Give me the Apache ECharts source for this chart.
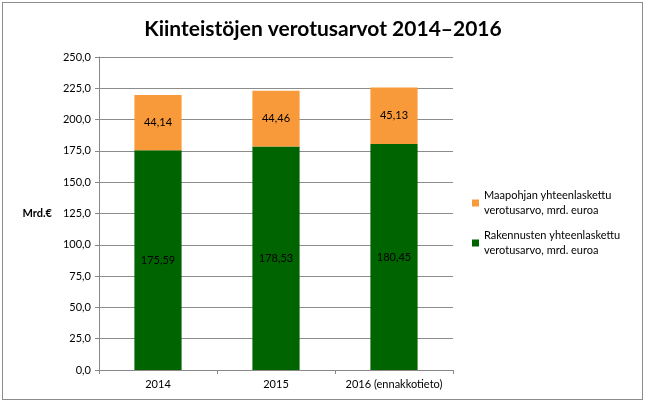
<!DOCTYPE html>
<html><head><meta charset="utf-8">
<script src="https://cdn.jsdelivr.net/npm/echarts@6/dist/echarts.min.js"></script>
<style>
html,body{margin:0;padding:0;background:#fff;}
#frame{position:absolute;left:2px;top:2px;width:639px;height:396px;border:1px solid #8c8c8c;}
#c{position:absolute;left:0;top:0;width:646px;height:405px;}
</style></head>
<body>
<div id="frame"></div>
<div id="c"></div>
<script>
const categories = ['2014', '2015', '2016 (ennakkotieto)'];
const buildings = [175.59, 178.53, 180.45];
const land = [44.14, 44.46, 45.13];
const seriesNames = ['Rakennusten yhteenlaskettu\nverotusarvo, mrd. euroa', 'Maapohjan yhteenlaskettu\nverotusarvo, mrd. euroa'];
const yTicks = { min: 0, max: 250, interval: 25 };

const fmt = v => v.toFixed(2).replace('.', ',');
const font = 'Lato, "Open Sans", sans-serif';
const chart = echarts.init(document.getElementById('c'));
chart.setOption({
  animation: false,
  title: { text: 'Kiinteistöjen verotusarvot 2014–2016', left: 318, top: 14, textAlign: 'center',
    textStyle: { fontFamily: font, fontSize: 21, fontWeight: 'bold', color: '#000' } },
  grid: { left: 99, right: 193, top: 57, bottom: 35 },
  legend: {
    orient: 'vertical', left: 467, top: 183, itemWidth: 7, itemHeight: 7, itemGap: 10,
    icon: 'rect',
    data: [seriesNames[1], seriesNames[0]],
    textStyle: { fontFamily: font, fontSize: 11, color: '#000', lineHeight: 15 }
  },
  xAxis: { type: 'category', data: categories,
    axisLine: { lineStyle: { color: '#888' } },
    axisTick: { show: true, alignWithLabel: false, length: 4, lineStyle: { color: '#888' } },
    axisLabel: { interval: 0, fontFamily: font, fontSize: 11, color: '#000', margin: 9 } },
  yAxis: { type: 'value', min: yTicks.min, max: yTicks.max, interval: yTicks.interval,
    name: 'Mrd.€', nameLocation: 'middle', nameRotate: 0, nameGap: 47,
    nameTextStyle: { fontFamily: font, fontSize: 11, fontWeight: 'bold', color: '#000' },
    axisLine: { show: true, lineStyle: { color: '#888' } },
    axisTick: { show: true, length: 4, lineStyle: { color: '#888' } },
    splitLine: { lineStyle: { color: '#8c8c8c' } },
    axisLabel: { fontFamily: font, fontSize: 11, color: '#000', margin: 8,
      formatter: v => v.toFixed(1).replace('.', ',') } },
  series: [
    { name: seriesNames[0], type: 'bar', stack: 't', data: buildings, barWidth: '40%',
      itemStyle: { color: '#006400' },
      label: { show: true, position: 'inside', formatter: p => fmt(p.value),
        fontFamily: font, fontSize: 11, color: '#000' } },
    { name: seriesNames[1], type: 'bar', stack: 't', data: land, barWidth: '40%',
      itemStyle: { color: '#F99A3A' },
      label: { show: true, position: 'inside', formatter: p => fmt(p.value),
        fontFamily: font, fontSize: 11, color: '#000' } }
  ]
});
</script>
</body></html>
